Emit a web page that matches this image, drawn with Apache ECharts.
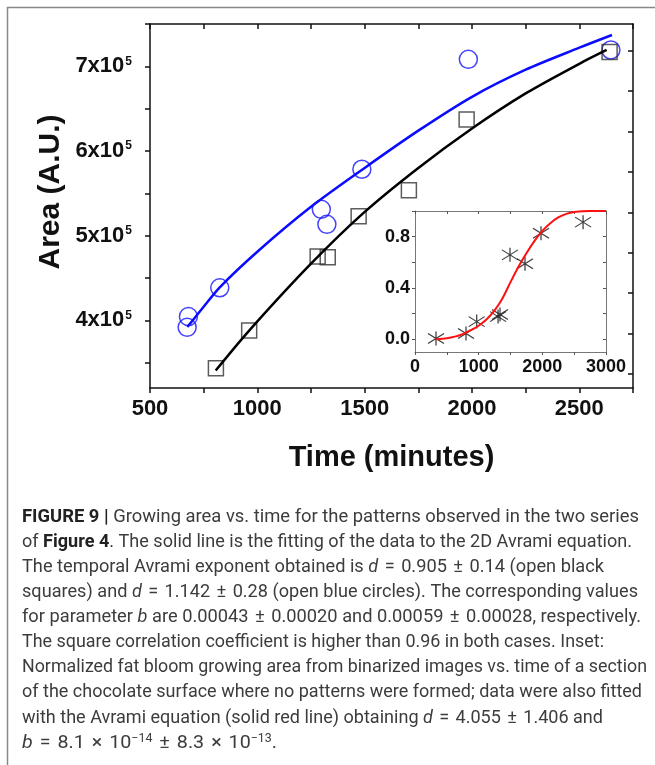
<!DOCTYPE html>
<html>
<head>
<meta charset="utf-8">
<script src="https://cdn.jsdelivr.net/npm/echarts@6/dist/echarts.min.js"></script>
<style>
  html, body { margin: 0; padding: 0; background: #fff; }
  #chart { width: 655px; height: 765px; }
</style>
</head>
<body>
<div id="chart"></div>
<script>
// main plot, open blue circles
const blueTime = [679, 673, 825, 1298, 1324, 1487, 1983, 2647];
const blueArea = [404400, 391700, 438400, 531100, 513300, 578400, 708300, 719300];
// main plot, open black squares
const blackTime = [807, 962, 1281, 1328, 1472, 1706, 1975, 2641];
const blackArea = [343200, 387800, 475400, 474600, 522800, 553600, 637300, 716900];
// fitted curves
const blueFitTime = [674, 750, 825, 1000, 1250, 1500, 1750, 2000, 2250, 2500, 2652];
const blueFitArea = [392000, 416000, 439000, 481000, 534000, 580000, 624000, 664000, 696000, 722000, 737000];
const blackFitTime = [806, 962, 1250, 1500, 1750, 2000, 2250, 2500, 2627];
const blackFitArea = [340600, 387800, 466800, 528000, 580000, 626600, 668000, 703000, 719300];
// inset: normalized area (stars) and red fit
const insetTime = [330, 801, 969, 1305, 1335, 1492, 1728, 1979, 2640];
const insetArea = [0.005, 0.044, 0.137, 0.176, 0.193, 0.658, 0.588, 0.826, 0.913];
const redFitTime = [330, 500, 625, 750, 875, 1000, 1125, 1250, 1375, 1500, 1625, 1750, 1875, 2000, 2125, 2250, 2375, 2500, 2750, 3000];
const redFitArea = [0, 0.008, 0.02, 0.04, 0.07, 0.105, 0.155, 0.225, 0.32, 0.445, 0.565, 0.67, 0.765, 0.845, 0.905, 0.95, 0.978, 0.993, 1.0, 1.0];

// tick values
const mainYLabels = [400000, 500000, 600000, 700000];
const mainYTicks = [350000, 400000, 450000, 500000, 550000, 600000, 650000, 700000, 750000];
const mainRightTicks = [336600, 384300, 432000, 479800, 527500, 575200, 623000, 670800, 718500];
const insetYLabels = [0, 0.4, 0.8];
const insetYTicks = [0, 0.2, 0.4, 0.6, 0.8, 1.0];

const caption = [
  '{b|FIGURE 9 |} Growing area vs. time for the patterns observed in the two series',
  'of {b|Figure 4}. The solid line is the fitting of the data to the 2D Avrami equation.',
  'The temporal Avrami exponent obtained is {i|d} {o|=} 0.905 {o|±} 0.14 (open black',
  'squares) and {i|d} {o|=} 1.142 {o|±} 0.28 (open blue circles). The corresponding values',
  'for parameter {i|b} are 0.00043 {o|±} 0.00020 and 0.00059 {o|±} 0.00028, respectively.',
  'The square correlation coefficient is higher than 0.96 in both cases. Inset:',
  'Normalized fat bloom growing area from binarized images vs. time of a section',
  'of the chocolate surface where no patterns were formed; data were also fitted',
  'with the Avrami equation (solid red line) obtaining {i|d} {o|=} 4.055 {o|±} 1.406 and',
  '{i|b} {o|=} 8.1 {o|×} 10{s|−14} {o|±} 8.3 {o|×} 10{s|−13}.'
];
// printed width of each caption line in the figure
const captionWidths = [617, 610, 582, 616, 619, 582, 625, 620, 581, 255];

const FONT = 'Liberation Sans, Arial, sans-serif';
const CAP_FONT = 'Roboto, sans-serif';
const ink = '#111';

const zip = (xs, ys) => xs.map((x, i) => [x, ys[i]]);

const capStyle = (extra) => Object.assign({
  fontSize: 19, fontFamily: CAP_FONT, fontWeight: 'normal', fontStyle: 'normal',
  fill: '#3c3c3c', verticalAlign: 'middle'
}, extra);
const capRich = {
  b: capStyle({ fontWeight: 'bold', fill: '#222' }),
  i: capStyle({ fontStyle: 'italic' }),
  o: capStyle({ padding: [0, 2] }),
  s: capStyle({ fontSize: 12, verticalAlign: 'top' })
};

// natural width of a caption line, to squeeze it to the printed width
const ctx = document.createElement('canvas').getContext('2d');
function lineWidth(line) {
  const re = /\{(\w)\|([^}]*)\}|([^{]+)/g;
  let m, w = 0;
  while ((m = re.exec(line))) {
    const st = m[1] ? capRich[m[1]] : capStyle({});
    ctx.font = st.fontStyle + ' ' + st.fontWeight + ' ' + st.fontSize + 'px ' + st.fontFamily;
    w += ctx.measureText(m[1] ? m[2] : m[3]).width + (st.padding ? st.padding[1] * 2 : 0);
  }
  return w;
}

const graphics = [
  {
    type: 'polyline',
    shape: { points: [[7.5, 765], [7.5, 7.5], [655, 7.5]] },
    style: { stroke: '#888', lineWidth: 1.5, fill: null }
  },
  {
    type: 'text', x: 51, y: 192, rotation: Math.PI / 2,
    style: {
      text: 'Area (A.U.)', fontSize: 30, fontWeight: 'bold', fontFamily: FONT,
      fill: ink, align: 'center', verticalAlign: 'middle'
    }
  }
];
caption.forEach((line, i) => {
  graphics.push({
    type: 'text', x: 22, y: 517 + 25.1 * i,
    scaleX: captionWidths[i] / lineWidth(line),
    style: capStyle({ text: line, align: 'left', rich: capRich })
  });
});

const axLine = (c, w) => ({ show: true, onZero: false, lineStyle: { color: c, width: w } });

const option = {
  animation: false,
  backgroundColor: '#fff',
  grid: [
    { left: 150, top: 24, width: 483, height: 364 },
    { left: 415, top: 211, width: 191, height: 141 }
  ],
  xAxis: [
    {
      gridIndex: 0, type: 'value', min: 500, max: 2750, interval: 250, position: 'bottom',
      axisLine: axLine(ink, 1.5),
      axisTick: { show: true, length: 5, lineStyle: { color: ink, width: 1.5 } },
      axisLabel: {
        formatter: v => (v % 500 === 0 ? String(v) : ''),
        fontSize: 22, fontWeight: 'bold', fontFamily: FONT, color: ink, margin: 10
      },
      splitLine: { show: false },
      name: 'Time (minutes)', nameLocation: 'middle', nameGap: 55,
      nameTextStyle: { fontSize: 29, fontWeight: 'bold', fontFamily: FONT, color: ink }
    },
    {
      gridIndex: 0, type: 'value', min: 500, max: 2750, interval: 250, position: 'top',
      axisLine: axLine(ink, 1.5),
      axisTick: { show: true, inside: true, length: 5, lineStyle: { color: ink, width: 1.5 } },
      axisLabel: { show: false },
      splitLine: { show: false }
    },
    {
      gridIndex: 1, type: 'value', min: 0, max: 3000, interval: 500, position: 'bottom',
      axisLine: axLine('#777', 1),
      axisTick: { show: true, length: 3, lineStyle: { color: '#555', width: 1 } },
      axisLabel: {
        formatter: v => (v % 1000 === 0 ? String(v) : ''),
        fontSize: 18, fontWeight: 'bold', fontFamily: FONT, color: ink, margin: 6
      },
      splitLine: { show: false }
    },
    {
      gridIndex: 1, type: 'value', min: 0, max: 3000, interval: 500, position: 'top',
      axisLine: axLine('#777', 1),
      axisTick: { show: true, inside: true, length: 3, lineStyle: { color: '#555', width: 1 } },
      axisLabel: { show: false },
      splitLine: { show: false }
    }
  ],
  yAxis: [
    {
      gridIndex: 0, type: 'value', min: 320000, max: 750000, position: 'left',
      axisLine: axLine(ink, 1.5),
      axisTick: { show: true, length: 5, customValues: mainYTicks, lineStyle: { color: ink, width: 1.5 } },
      axisLabel: {
        customValues: mainYLabels, margin: 18,
        formatter: v => '{a|' + Math.round(v / 100000) + 'x10}{s|5}',
        rich: {
          a: { fontSize: 22, fontWeight: 'bold', fontFamily: FONT, color: ink },
          s: { fontSize: 12, fontWeight: 'bold', fontFamily: FONT, color: ink, verticalAlign: 'top', padding: [0, 0, 10, 1] }
        }
      },
      splitLine: { show: false }
    },
    {
      gridIndex: 0, type: 'value', min: 320000, max: 750000, position: 'right',
      axisLine: axLine(ink, 1.5),
      axisTick: { show: true, inside: true, length: 5, customValues: mainRightTicks, lineStyle: { color: ink, width: 1.5 } },
      axisLabel: { show: false },
      splitLine: { show: false }
    },
    {
      gridIndex: 1, type: 'value', min: -0.1, max: 1.0, position: 'left',
      axisLine: axLine('#777', 1),
      axisTick: { show: true, length: 3, customValues: insetYTicks, lineStyle: { color: '#555', width: 1 } },
      axisLabel: {
        customValues: insetYLabels, margin: 5,
        formatter: v => v.toFixed(1),
        fontSize: 18, fontWeight: 'bold', fontFamily: FONT, color: ink
      },
      splitLine: { show: false }
    },
    {
      gridIndex: 1, type: 'value', min: -0.1, max: 1.0, position: 'right',
      axisLine: axLine('#777', 1),
      axisTick: { show: true, inside: true, length: 3, customValues: insetYTicks, lineStyle: { color: '#555', width: 1 } },
      axisLabel: { show: false },
      splitLine: { show: false }
    }
  ],
  series: [
    {
      type: 'line', xAxisIndex: 0, yAxisIndex: 0, data: zip(blueFitTime, blueFitArea),
      smooth: 0.3, symbol: 'none', lineStyle: { color: '#0b0bff', width: 2.5 }
    },
    {
      type: 'line', xAxisIndex: 0, yAxisIndex: 0, data: zip(blackFitTime, blackFitArea),
      smooth: 0.3, symbol: 'none', lineStyle: { color: '#000', width: 2.5 }
    },
    {
      type: 'scatter', xAxisIndex: 0, yAxisIndex: 0, data: zip(blueTime, blueArea),
      symbol: 'circle', symbolSize: 18,
      itemStyle: { color: 'rgba(0,0,0,0)', borderColor: '#1414ff', borderWidth: 1.5 }
    },
    {
      type: 'scatter', xAxisIndex: 0, yAxisIndex: 0, data: zip(blackTime, blackArea),
      symbol: 'rect', symbolSize: 15,
      itemStyle: { color: 'rgba(0,0,0,0)', borderColor: '#333', borderWidth: 1.5 }
    },
    {
      type: 'line', xAxisIndex: 2, yAxisIndex: 2, data: zip(redFitTime, redFitArea),
      smooth: 0.3, symbol: 'none', lineStyle: { color: '#ff1010', width: 2 }
    },
    {
      type: 'scatter', xAxisIndex: 2, yAxisIndex: 2, data: zip(insetTime, insetArea),
      symbol: 'path://M0,-7L0,7M-8,-5L8,5M-8,5L8,-5', symbolSize: [16, 14],
      itemStyle: { color: 'rgba(0,0,0,0)', borderColor: '#111', borderWidth: 1.2 }
    }
  ],
  graphic: graphics
};

const chart = echarts.init(document.getElementById('chart'));
chart.setOption(option);
</script>
</body>
</html>
